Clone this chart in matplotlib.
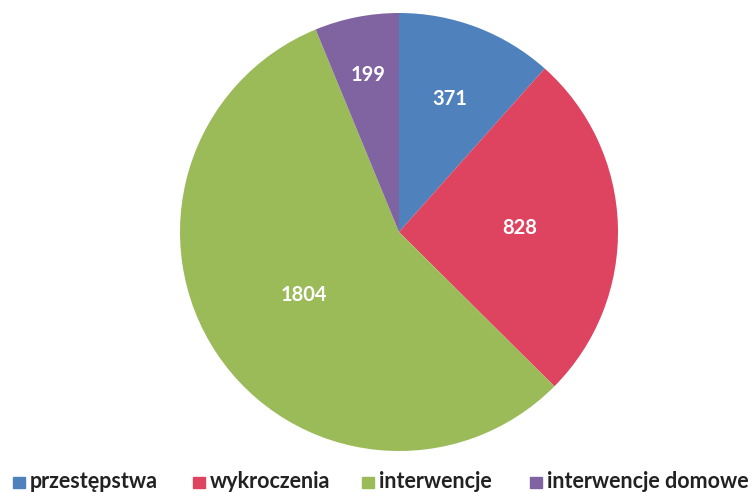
import numpy as np
import matplotlib
matplotlib.use("Agg")
import matplotlib.pyplot as plt
from matplotlib.patches import Rectangle

categories = ["przestępstwa", "wykroczenia", "interwencje", "interwencje domowe"]
values = [371, 828, 1804, 199]
colors = ["#4F81BD", "#DE4460", "#9BBB59", "#8064A2"]
label_r = [0.65, 0.55, 0.52, 0.73]

W, H = 753, 492
legend_x = [13, 193, 362, 530]  # left edge of each legend marker, px

plt.rcParams["font.family"] = ["Lato", "DejaVu Sans"]

fig = plt.figure(figsize=(W / 100, H / 100), dpi=100)
ax = fig.add_axes([180 / W, 41 / H, 438 / W, 438 / H])

wedges, _ = ax.pie(values, colors=colors, startangle=90, counterclock=False,
                   radius=1.0, wedgeprops=dict(linewidth=0))
ax.set_xlim(-1, 1)
ax.set_ylim(-1, 1)
ax.set_aspect("equal")

for w, v, r in zip(wedges, values, label_r):
    mid = np.deg2rad((w.theta1 + w.theta2) / 2)
    ax.text(r * np.cos(mid), r * np.sin(mid), str(v), color="white",
            fontsize=14.5, fontweight="bold", ha="center", va="center")

# legend drawn by hand so the entries sit where the original has them
for x, name, c in zip(legend_x, categories, colors):
    fig.patches.append(Rectangle((x / W, 4 / H), 12 / W, 11 / H, color=c,
                                 transform=fig.transFigure, figure=fig))
    fig.text((x + 17) / W, 4 / H, name, fontsize=15.5, fontweight="bold",
             color="#222222", ha="left", va="baseline")

fig.savefig("out.png", dpi=100)
